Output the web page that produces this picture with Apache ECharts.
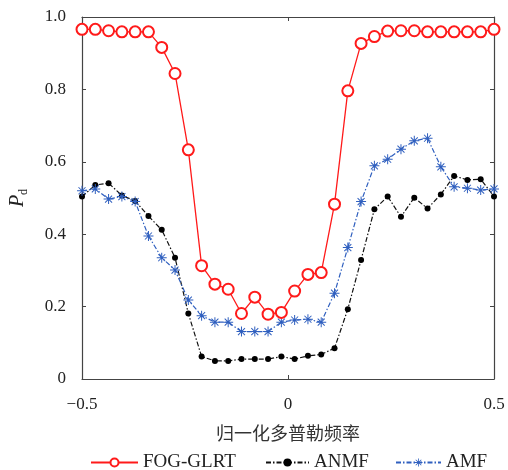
<!DOCTYPE html>
<html><head><meta charset="utf-8">
<script src="https://cdn.jsdelivr.net/npm/echarts@6/dist/echarts.min.js"></script>
<style>html,body{margin:0;padding:0;background:#fff}#c{width:508px;height:470px}</style>
</head><body><div id="c"></div>
<script>
// normalized Doppler frequency (32 points from -0.5 to 0.5)
const freq = [-0.5,-0.4677,-0.4355,-0.4032,-0.371,-0.3387,-0.3065,-0.2742,-0.2419,-0.2097,-0.1774,-0.1452,-0.1129,-0.0806,-0.0484,-0.0161,
  0.0161,0.0484,0.0806,0.1129,0.1452,0.1774,0.2097,0.2419,0.2742,0.3065,0.3387,0.371,0.4032,0.4355,0.4677,0.5];
const fogGlrt = [0.966,0.966,0.962,0.959,0.959,0.959,0.916,0.844,0.633,0.313,0.262,0.248,0.181,0.226,0.179,0.184,
  0.243,0.289,0.294,0.483,0.796,0.927,0.946,0.961,0.962,0.962,0.959,0.959,0.959,0.959,0.959,0.966];
const anmf = [0.504,0.536,0.541,0.507,0.492,0.450,0.412,0.335,0.181,0.062,0.050,0.050,0.055,0.055,0.055,0.062,
  0.055,0.064,0.068,0.085,0.193,0.329,0.469,0.504,0.448,0.501,0.471,0.510,0.561,0.550,0.552,0.504];
const amf = [0.520,0.525,0.497,0.504,0.490,0.395,0.335,0.301,0.218,0.175,0.157,0.157,0.131,0.131,0.131,0.157,
  0.163,0.165,0.157,0.237,0.363,0.490,0.589,0.607,0.635,0.658,0.665,0.586,0.531,0.527,0.522,0.525];
const seriesNames = ['FOG-GLRT','ANMF','AMF'];
const xTicks = [-0.5, 0, 0.5];
const yTicks = [0, 0.2, 0.4, 0.6, 0.8, 1.0];
const xLabel = '归一化多普勒频率';

const serif = '"Liberation Serif","DejaVu Serif",serif';
const axisColor = '#444';
const star = 'path://M-1,-10 L1,-10 L1,10 L-1,10 Z M-10,-1 L10,-1 L10,1 L-10,1 Z M-7.7,-6.3 L-6.3,-7.7 L7.7,6.3 L6.3,7.7 Z M6.3,-7.7 L7.7,-6.3 L-6.3,7.7 L-7.7,6.3 Z';
const pair = a => freq.map((f,i)=>[f,a[i]]);

const baseX = {type:'value', min:-0.5, max:0.5, interval:0.5,
  axisLine:{show:true,onZero:false,lineStyle:{color:axisColor,width:1.2}},
  axisTick:{show:true,inside:true,length:4,lineStyle:{color:axisColor}},
  splitLine:{show:false}};
const baseY = {type:'value', min:0, max:1, interval:0.2,
  axisLine:{show:true,onZero:false,lineStyle:{color:axisColor,width:1.2}},
  axisTick:{show:true,inside:true,length:4,lineStyle:{color:axisColor}},
  splitLine:{show:false}};

const option = {
  animation:false,
  backgroundColor:'#fff',
  grid:{left:79,right:14,top:17,bottom:91,containLabel:false},
  xAxis:[
    Object.assign({}, baseX, {position:'bottom',
      axisLabel:{margin:17,fontFamily:serif,fontSize:17,color:'#222',
        formatter:v=>xTicks.indexOf(v)>=0 ? String(v).replace('-','\u2212') : ''},
      name:xLabel, nameLocation:'middle', nameGap:45,
      nameTextStyle:{fontFamily:'"Noto Sans CJK SC",sans-serif',fontSize:18,color:'#333'}}),
    Object.assign({}, baseX, {position:'top', axisLabel:{show:false}})
  ],
  yAxis:[
    Object.assign({}, baseY, {position:'left',
      axisLabel:{margin:16,fontFamily:serif,fontSize:17,color:'#222',
        formatter:v=>{const t=yTicks.find(y=>Math.abs(y-v)<1e-9); if(t===undefined) return ''; return t===0?'0':t.toFixed(1);}},
      name:'{p|P}{d|d}', nameLocation:'middle', nameGap:52, nameRotate:90,
      nameTextStyle:{rich:{
        p:{fontFamily:serif,fontStyle:'italic',fontSize:20,color:'#222',lineHeight:22,verticalAlign:'top'},
        d:{fontFamily:serif,fontSize:12,color:'#222',lineHeight:22,verticalAlign:'bottom',padding:[8,0,0,0]}
      }}}),
    Object.assign({}, baseY, {position:'right', axisLabel:{show:false}})
  ],
  legend:[
    {data:[seriesNames[0]], left:85, top:448, itemWidth:47, itemHeight:10, itemGap:5,
      textStyle:{fontFamily:serif,fontSize:19,color:'#222'}},
    {data:[seriesNames[1]], left:260, top:448, itemWidth:43, itemHeight:10,
      textStyle:{fontFamily:serif,fontSize:19,color:'#222'}},
    {data:[seriesNames[2]], left:390, top:448, itemWidth:45, itemHeight:10,
      textStyle:{fontFamily:serif,fontSize:19,color:'#222'}}
  ],
  series:[
    {name:seriesNames[0], type:'line', data:pair(fogGlrt), symbol:'emptyCircle', symbolSize:11,
      color:'#ff1a1a', lineStyle:{color:'#ff1a1a',width:1.3},
      itemStyle:{color:'#ff1a1a',borderColor:'#ff1a1a',borderWidth:1.3}, z:3},
    {name:seriesNames[1], type:'line', data:pair(anmf), symbol:'circle', symbolSize:6,
      color:'#000', lineStyle:{color:'#111',width:1.2,type:[5,2,1.5,2]},
      itemStyle:{color:'#000'}, z:2},
    {name:seriesNames[2], type:'line', data:pair(amf), symbol:star, symbolSize:10,
      color:'#2f5fbf', lineStyle:{color:'#2f5fbf',width:1.2,type:[5,2,1.5,2]},
      itemStyle:{color:'#2f5fbf'}, z:2}
  ]
};
const chart = echarts.init(document.getElementById('c'), null, {renderer:'canvas'});
chart.setOption(option);
</script></body></html>
